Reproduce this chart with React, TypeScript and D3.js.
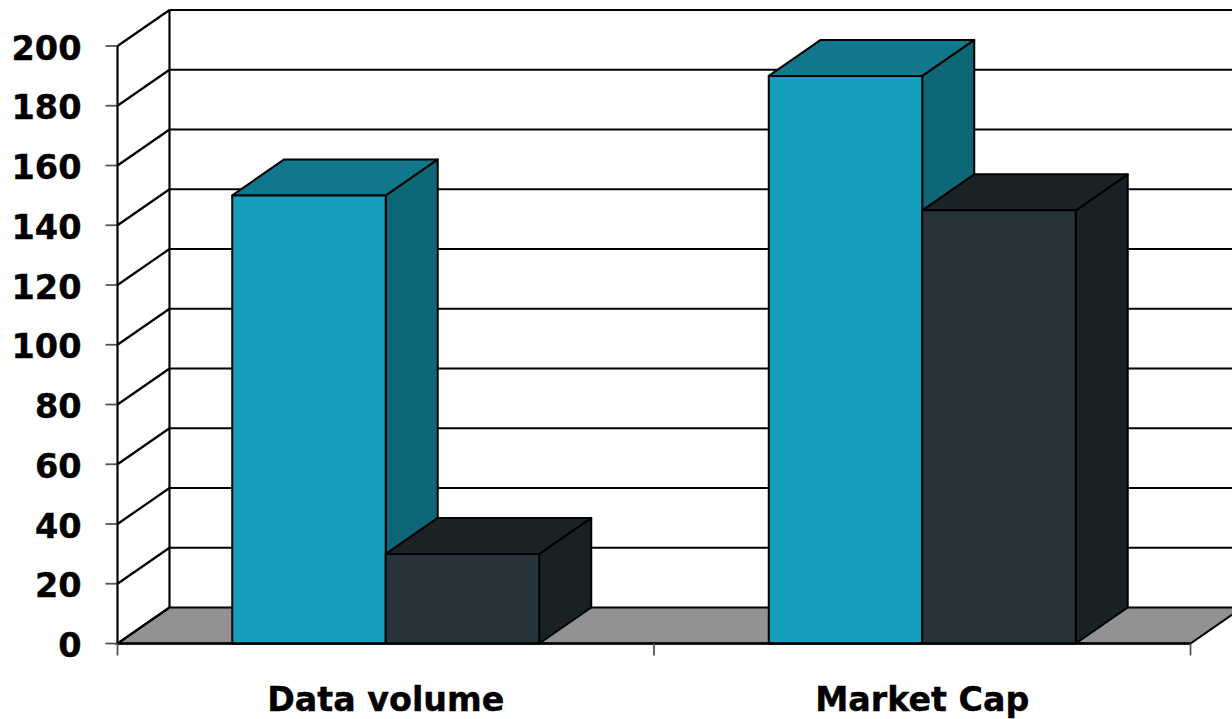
import * as d3 from 'd3';

const categories = ['Data volume', 'Market Cap'];
const seriesNames = ['Series A', 'Series B'];
const seriesA = [150, 190];
const seriesB = [30, 145];
const yTicks = [0, 20, 40, 60, 80, 100, 120, 140, 160, 180, 200];

const width = 1232;
const height = 719;
const depthX = 52;
const depthY = -36;
const font = "'DejaVu Sans', Verdana, sans-serif";

const seriesColours = [
  { front: '#149EBC', top: '#10778C', side: '#0E6777' },
  { front: '#263338', top: '#1A2326', side: '#192124' },
];

const x = d3.scaleBand<string>().domain(categories).range([117.5, 1190.5]);
const inner = d3
  .scaleBand<string>()
  .domain(seriesNames)
  .range([0, x.bandwidth()])
  .paddingOuter(0.7476)
  .paddingInner(0);
const y = d3.scaleLinear().domain([0, 200]).range([643.5, 46]);

function poly(points: [number, number][]) {
  return d3.line()(points) + 'Z';
}

function Bar({ x0, w, value, colours }: { x0: number; w: number; value: number; colours: (typeof seriesColours)[0] }) {
  const y0 = y(0);
  const yv = y(value);
  const x1 = x0 + w;
  return (
    <g stroke="#000" strokeWidth={2} strokeLinejoin="round">
      <path
        d={poly([[x1, yv], [x1 + depthX, yv + depthY], [x1 + depthX, y0 + depthY], [x1, y0]])}
        fill={colours.side}
      />
      <path
        d={poly([[x0, yv], [x0 + depthX, yv + depthY], [x1 + depthX, yv + depthY], [x1, yv]])}
        fill={colours.top}
      />
      <path d={poly([[x0, yv], [x1, yv], [x1, y0], [x0, y0]])} fill={colours.front} />
    </g>
  );
}

export default function App() {
  const left = x.range()[0];
  const right = x.range()[1];
  const y0 = y(0);
  const tickEdges = [left, ...categories.map((c) => (x(c) as number) + x.bandwidth())];

  return (
    <svg
      width={width}
      height={height}
      viewBox={`0 0 ${width} ${height}`}
      style={{ position: 'absolute', left: 0, top: 0, display: 'block', background: '#fff' }}
    >
      {/* floor */}
      <path
        d={poly([[left, y0], [left + depthX, y0 + depthY], [right + depthX, y0 + depthY], [right, y0]])}
        fill="#929292"
        stroke="#000"
        strokeWidth={2}
      />
      {/* walls and gridlines */}
      {yTicks.map((t) => (
        <g key={t} fill="none" stroke="#000" strokeWidth={2.2}>
          <line x1={left} x2={left + depthX} y1={y(t)} y2={y(t) + depthY} />
          {t > 0 && <line x1={left + depthX} x2={width + 10} y1={y(t) + depthY} y2={y(t) + depthY} />}
          <line x1={left - 12} x2={left} y1={y(t)} y2={y(t)} stroke="#555" strokeWidth={1.8} />
        </g>
      ))}
      <line x1={left} x2={left} y1={y(0)} y2={y(200)} stroke="#000" strokeWidth={2.2} />
      <line x1={left + depthX} x2={left + depthX} y1={y(0) + depthY} y2={y(200) + depthY} stroke="#000" strokeWidth={2.2} />
      {/* bars */}
      {categories.map((c, i) => (
        <g key={c}>
          <Bar x0={(x(c) as number) + (inner(seriesNames[0]) as number)} w={inner.bandwidth()} value={seriesA[i]} colours={seriesColours[0]} />
          <Bar x0={(x(c) as number) + (inner(seriesNames[1]) as number)} w={inner.bandwidth()} value={seriesB[i]} colours={seriesColours[1]} />
        </g>
      ))}
      {/* x axis */}
      <line x1={left} x2={right} y1={y0} y2={y0} stroke="#000" strokeWidth={2.4} />
      {tickEdges.map((e) => (
        <line key={e} x1={e} x2={e} y1={y0} y2={y0 + 12} stroke="#555" strokeWidth={1.8} />
      ))}
      {/* labels */}
      {yTicks.map((t) => (
        <text key={t} x={81.5} y={y(t) + 13.5} textAnchor="end" fontFamily={font} fontWeight={700} fontSize={33.5} fill="#000" stroke="#000" strokeWidth={0.4}>
          {t}
        </text>
      ))}
      {categories.map((c) => (
        <text
          key={c}
          x={(x(c) as number) + x.bandwidth() / 2}
          y={711}
          textAnchor="middle"
          fontFamily={font}
          fontWeight={700}
          fontSize={33.3}
          fill="#000"
          stroke="#000"
          strokeWidth={0.4}
        >
          {c}
        </text>
      ))}
    </svg>
  );
}
